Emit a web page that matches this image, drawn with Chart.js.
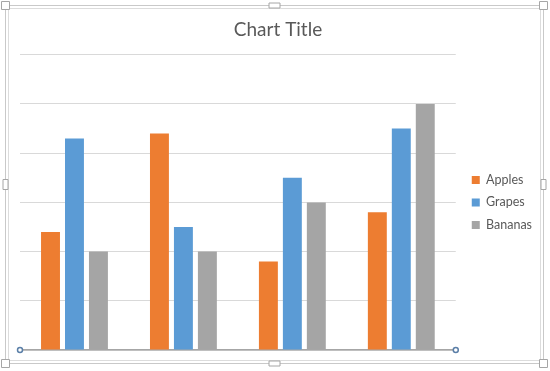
<!DOCTYPE html>
<html>
<head>
<meta charset="utf-8">
<script src="https://cdn.jsdelivr.net/npm/chart.js@4/dist/chart.umd.min.js"></script>
<style>
	html, body { margin: 0; padding: 0; background: #fff; }
	#wrap { width: 550px; height: 371px; position: relative; }
</style>
</head>
<body>
<div id="wrap"><canvas id="fruitChart" width="550" height="371"></canvas></div>
<script>

const categories = [ 'Category 1', 'Category 2', 'Category 3', 'Category 4' ];
const apples = [ 2.4, 4.4, 1.8, 2.8 ];
const grapes = [ 4.3, 2.5, 3.5, 4.5 ];
const bananas = [ 2, 2, 3, 5 ];

// selection frame and handles, like the slide editor shows round the chart
const framePlugin = {
	id: 'frame',
	afterLayout(chart) {
		// nudge the legend a little to the right, as in the original
		chart.legend.left += 6;
		chart.legend.right += 6;
	},
	afterDraw(chart) {
		let ctx = chart.ctx;
		ctx.save();
		ctx.lineWidth = 1;
		ctx.strokeStyle = '#c9c9c9';
		ctx.strokeRect(5.5, 5.5, 538, 358);
		ctx.strokeStyle = '#dcdcdc';
		ctx.strokeRect(8.5, 8.5, 532, 352);

		let handles = [
			[5.5, 5.5, 8, 8], [274.5, 5.5, 11, 5], [543.5, 5.5, 8, 8],
			[5.5, 184.5, 5, 10], [543.5, 184.5, 5, 10],
			[5.5, 363.5, 8, 8], [274.5, 363.5, 11, 5], [543.5, 363.5, 8, 8]
		];
		ctx.fillStyle = '#ffffff';
		ctx.strokeStyle = '#a6a6a6';
		handles.forEach(h => {
			ctx.beginPath();
			ctx.rect(h[0] - h[2] / 2, h[1] - h[3] / 2, h[2], h[3]);
			ctx.fill();
			ctx.stroke();
		});

		// axis end markers
		let area = chart.chartArea;
		ctx.strokeStyle = '#5b7fa8';
		ctx.lineWidth = 1.5;
		[area.left, area.right].forEach(x => {
			ctx.beginPath();
			ctx.arc(x, area.bottom, 2.5, 0, Math.PI * 2);
			ctx.fill();
			ctx.stroke();
		});
		ctx.restore();
	}
};

let ctx = document.getElementById('fruitChart').getContext('2d');
let fruitChart = new Chart(ctx, {
	type: 'bar',
	data: {
		labels: categories,
		datasets: [
			{ label: 'Apples', data: apples, backgroundColor: '#ed7d31' },
			{ label: 'Grapes', data: grapes, backgroundColor: '#5b9bd5' },
			{ label: 'Bananas', data: bananas, backgroundColor: '#a5a5a5' }
		]
	},
	options: {
		responsive: false,
		animation: false,
		layout: {
			padding: { left: 20, right: 14, top: 10, bottom: 21 }
		},
		datasets: {
			bar: { categoryPercentage: 0.66, barPercentage: 0.79 }
		},
		plugins: {
			title: {
				display: true,
				text: 'Chart Title',
				color: '#595959',
				font: { family: 'Lato', size: 19, weight: 'normal' },
				padding: { top: 8, bottom: 14 }
			},
			legend: {
				position: 'right',
				fullSize: false,
				labels: {
					color: '#595959',
					font: { family: 'Lato', size: 12.5 },
					boxWidth: 8,
					boxHeight: 8,
					padding: 10
				}
			},
			tooltip: { enabled: false }
		},
		scales: {
			x: {
				grid: { display: false, drawTicks: false },
				border: { color: '#a6a6a6', width: 1.5 },
				ticks: { display: false }
			},
			y: {
				min: 0,
				max: 6,
				grid: { color: '#d9d9d9', drawTicks: false },
				border: { display: false },
				ticks: { display: false, stepSize: 1 }
			}
		}
	},
	plugins: [ framePlugin ]
});

</script>
</body>
</html>
